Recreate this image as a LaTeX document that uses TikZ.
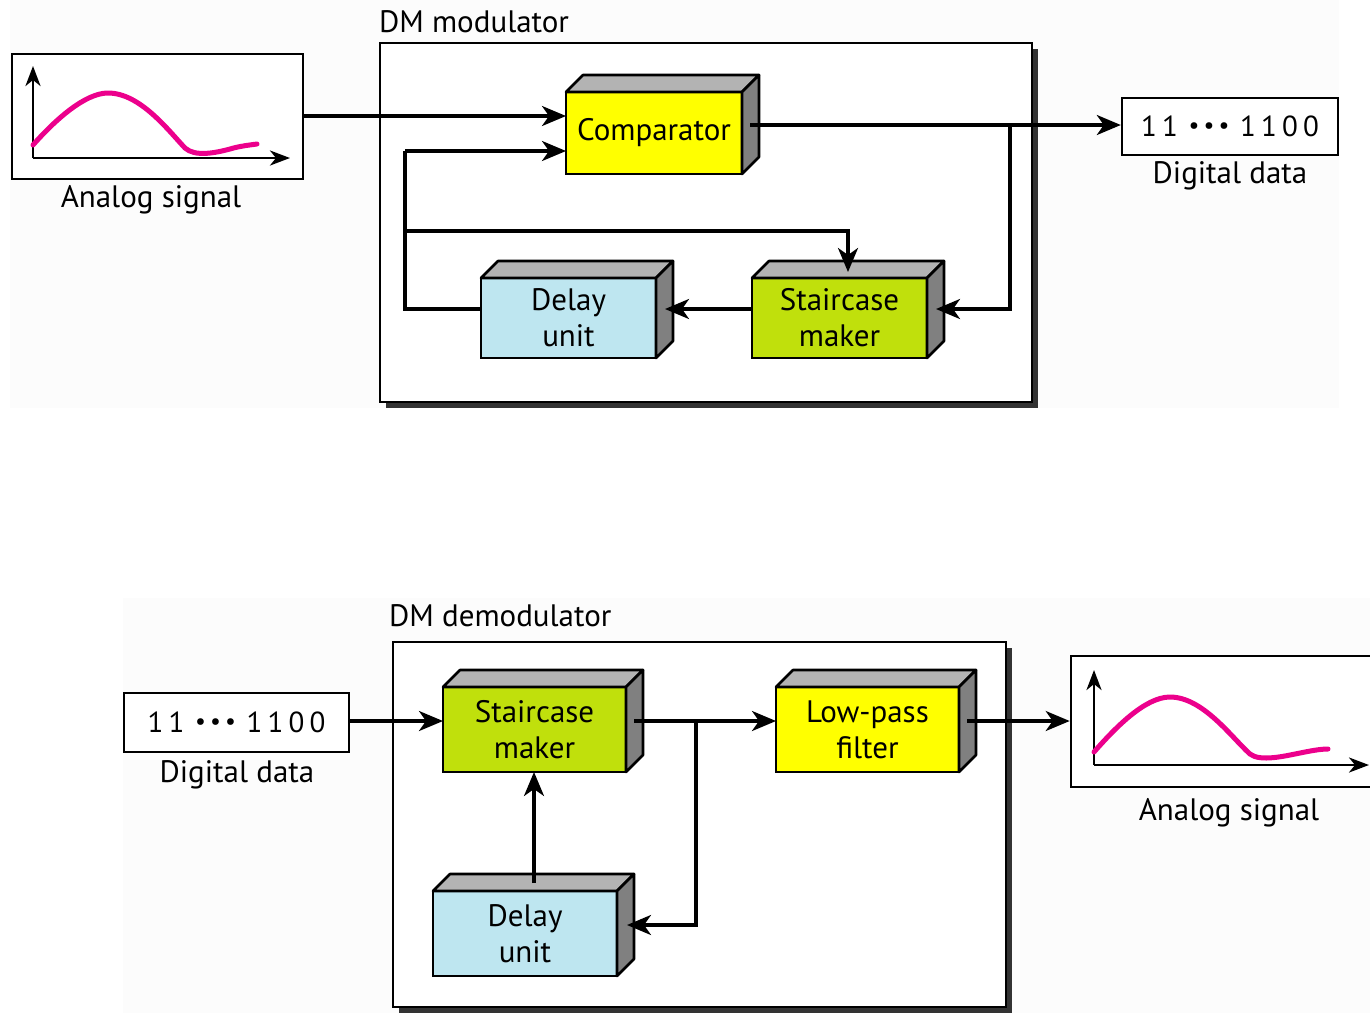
\documentclass[tikz,border=0pt]{standalone}
\usepackage{fontspec}
\setmainfont{PT Sans}
\usetikzlibrary{arrows.meta}
\definecolor{cyel}{RGB}{255,255,0}
\definecolor{cgrn}{RGB}{192,224,12}
\definecolor{cblu}{RGB}{190,230,240}
\definecolor{ctop}{RGB}{179,179,179}
\definecolor{cside}{RGB}{128,128,128}
\definecolor{cpink}{RGB}{236,0,140}
\definecolor{cbg}{RGB}{252,252,252}
\tikzset{
  x=1pt,y=-1pt,
  txt/.style={font=\fontsize{31}{36}\selectfont, inner sep=0pt, outer sep=0pt},
  cubefront/.style={draw, line width=2.6pt, inner sep=0pt, outer sep=0pt, align=center, font=\fontsize{31}{36}\selectfont},
  conn/.style={line width=3.2pt, -{Stealth[length=24pt,width=20pt,inset=7pt]}},
  plain/.style={line width=3.2pt},
  frame/.style={draw, line width=2.6pt, fill=white},
  sigbox/.style={draw, line width=2.6pt, fill=white},
  databox/.style={draw, line width=2.4pt, inner sep=0pt, fill=white, font=\fontsize{29}{34}\selectfont},
  axis/.style={line width=2.8pt, -{Stealth[length=20pt,width=15pt,inset=6pt]}},
  wave/.style={line width=5pt, cpink, line cap=round},
}
% \cubebox{name}{x1}{y1}{x2}{y2}{colour}{text}
\newcommand\cubebox[7]{%
  \node[cubefront, fill=#6, minimum width={#4-#2}, minimum height={#5-#3}] (#1) at ({(#2+#4)/2},{(#3+#5)/2}) {#7};
  \draw[line width=2.6pt, line join=round, fill=ctop] (#1.north west) -- ([shift={(17,-17)}]#1.north west) -- ([shift={(17,-17)}]#1.north east) -- (#1.north east) -- cycle;
  \draw[line width=2.6pt, line join=round, fill=cside] (#1.north east) -- ([shift={(17,-17)}]#1.north east) -- ([shift={(17,-17)}]#1.south east) -- (#1.south east) -- cycle;
}
\newcommand\dg[1]{\makebox[21pt]{#1}}
\newcommand\bl{\makebox[15pt]{\raisebox{3pt}{\fontsize{24}{26}\selectfont\textbullet}}}
\newcommand\bitstr{\dg{1}\dg{1}\hspace{6pt}\bl\bl\bl\hspace{6pt}\dg{1}\dg{1}\dg{0}\dg{0}}
\begin{document}
\begin{tikzpicture}
\useasboundingbox (0,0) rectangle (1370,1013);
\fill[white] (0,0) rectangle (1370,1013);
\fill[cbg] (10,0) rectangle (1339,408);
\fill[cbg] (123,598) rectangle (1370,1013);

% ===== Top: DM modulator =====
\fill[black!80] (386,49) rectangle (1038,408);
\draw[frame] (380,43) rectangle (1032,402);
\node[txt, anchor=west] (modlbl) at (379,22) {DM modulator};

% analog signal box
\node[sigbox, inner sep=0pt, minimum width=291, minimum height=125] (sig1) at (157.5,116.5) {};
\node[txt] (sig1lbl) at (151,200) {Analog signal};
\coordinate (s1o) at (33,158);
\draw[axis] (s1o) -- (33,66);
\draw[axis] (s1o) -- (290,158);
\draw[wave] (33,145) .. controls (55,120) and (85,93) .. (108,93)
  .. controls (140,93) and (168,130) .. (185,148)
  .. controls (195,157) and (215,153) .. (230,149)
  .. controls (240,146) and (250,145) .. (257,144);

\cubebox{comp}{566}{92}{742}{174}{cyel}{Comparator}
\cubebox{stair}{752}{278}{927}{358}{cgrn}{Staircase\\maker}
\cubebox{delay}{481}{278}{656}{358}{cblu}{Delay\\unit}

% digital data output box
\node[databox, minimum width=216, minimum height=57] (dd1) at (1230,126.5) {\bitstr};
\node[txt] (dd1lbl) at (1230,176) {Digital data};

% connectors top
\draw[conn] (sig1.east |- 0,116) -- (comp.west |- 0,116);
\coordinate (fbx) at (405,309);
\coordinate (fbtop) at (405,151);
\coordinate (fbmid) at (405,231);
\coordinate (fbr) at (848,231);
\draw[plain, line join=miter] (delay.west |- 0,309) -- (fbx) -- (fbtop);
\draw[conn] (fbtop) -- (comp.west |- 0,151);
\draw[conn] (fbmid) -- (fbr) -- (848,272);
\coordinate (cout) at (750,125);
\coordinate (brx) at (1010,125);
\draw[conn] (cout) -- (dd1.west |- 0,125);
\draw[conn] (brx) -- (1010,309) -- (936,309);
\draw[conn] (stair.west |- 0,309) -- (665,309);

% ===== Bottom: DM demodulator =====
\fill[black!80] (399,648) rectangle (1012,1013);
\draw[frame] (393,642) rectangle (1006,1007);
\node[txt, anchor=west] (demlbl) at (389,616) {DM demodulator};

\node[databox, minimum width=225, minimum height=59] (dd2) at (236.5,722.5) {\bitstr};
\node[txt] (dd2lbl) at (237,775) {Digital data};

\cubebox{stair2}{443}{687}{626}{772}{cgrn}{Staircase\\maker}
\cubebox{lpf}{776}{687}{959}{772}{cyel}{Low-pass\\filter}
\cubebox{delay2}{433}{891}{617}{976}{cblu}{Delay\\unit}

% analog signal output box (runs past the right edge)
\node[sigbox, inner sep=0pt, minimum width=310, minimum height=131] (sig2) at (1226,721.5) {};
\node[txt] (sig2lbl) at (1229,813) {Analog signal};
\coordinate (s2o) at (1094,765);
\draw[axis] (s2o) -- (1094,670);
\draw[axis] (s2o) -- (1369,765);
\draw[wave] (1094,752) .. controls (1115,728) and (1145,697) .. (1170,697)
  .. controls (1203,697) and (1232,738) .. (1250,754)
  .. controls (1260,762) and (1285,756) .. (1300,753)
  .. controls (1310,751) and (1320,749) .. (1328,749);

% connectors bottom
\draw[conn] (dd2.east |- 0,721) -- (stair2.west |- 0,721);
\coordinate (s2out) at (634,721);
\coordinate (br2) at (696,721);
\draw[conn] (s2out) -- (lpf.west |- 0,721);
\draw[conn] (br2) -- (696,925) -- (627,925);
\draw[conn] (534,883) -- (stair2.south -| 534,0);
\draw[conn] (967,721) -- (sig2.west |- 0,721);
\end{tikzpicture}
\end{document}
